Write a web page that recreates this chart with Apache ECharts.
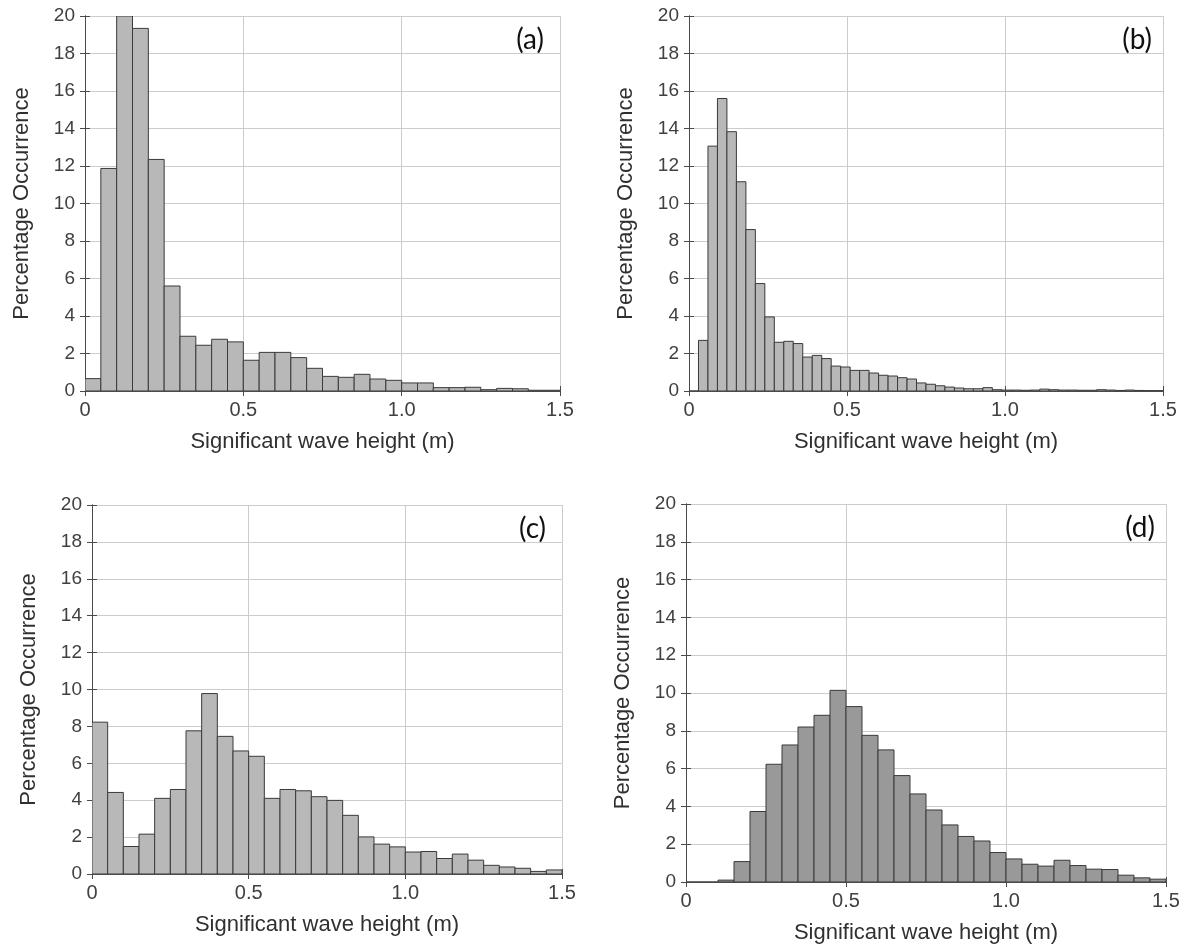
<!DOCTYPE html>
<html>
<head>
<meta charset="utf-8">
<script src="https://cdn.jsdelivr.net/npm/echarts@6/dist/echarts.min.js"></script>
<style>
html,body{margin:0;padding:0;background:#fff;}
#chart{width:1192px;height:949px;}
</style>
</head>
<body>
<div id="chart"></div>
<script>
// ---- data ----
const xTickLabels = ['0', '0.5', '1.0', '1.5'];
const xTickValues = [0, 0.5, 1.0, 1.5];
const yTickValues = [0, 2, 4, 6, 8, 10, 12, 14, 16, 18, 20];
const panelLabels = ['(a)', '(b)', '(c)', '(d)'];
const binWidthA = 0.05;
const binWidthB = 0.03;
const binWidthC = 0.05;
const binWidthD = 0.05;
const valuesA = [0.66, 11.87, 20, 19.34, 12.35, 5.6, 2.92, 2.44, 2.76, 2.62, 1.64, 2.06, 2.06, 1.78, 1.21, 0.78, 0.73, 0.89, 0.64, 0.57, 0.43, 0.43, 0.18, 0.18, 0.2, 0.07, 0.14, 0.12, 0.04, 0.04];
const valuesB = [0, 2.7, 13.06, 15.6, 13.83, 11.16, 8.61, 5.73, 3.95, 2.6, 2.65, 2.53, 1.81, 1.9, 1.73, 1.33, 1.28, 1.1, 1.1, 0.96, 0.84, 0.8, 0.71, 0.64, 0.43, 0.36, 0.28, 0.21, 0.16, 0.12, 0.12, 0.18, 0.07, 0.05, 0.05, 0.04, 0.05, 0.1, 0.07, 0.05, 0.05, 0.04, 0.04, 0.07, 0.05, 0.03, 0.05, 0.03, 0.02, 0.02];
const valuesC = [8.23, 4.42, 1.49, 2.16, 4.1, 4.58, 7.76, 9.78, 7.46, 6.67, 6.38, 4.1, 4.58, 4.51, 4.19, 3.99, 3.18, 2.01, 1.62, 1.47, 1.19, 1.22, 0.84, 1.08, 0.75, 0.47, 0.38, 0.31, 0.14, 0.22];
const valuesD = [0, 0, 0.1, 1.08, 3.73, 6.23, 7.25, 8.2, 8.82, 10.14, 9.28, 7.76, 6.99, 5.63, 4.66, 3.81, 3.02, 2.41, 2.17, 1.56, 1.22, 0.94, 0.84, 1.15, 0.87, 0.68, 0.66, 0.36, 0.22, 0.15];
const xTitle = 'Significant wave height (m)';
const yTitle = 'Percentage Occurrence';

// ---- layout / style ----
const grids = [
  {left: 85, top: 16, width: 475, height: 375},
  {left: 689, top: 16, width: 474, height: 375},
  {left: 92, top: 505, width: 470, height: 369},
  {left: 686, top: 504, width: 480, height: 378}
];
const labelOffsets = [16, 11, 16, 11];
const fills = ['#b8b8b8', '#b8b8b8', '#b8b8b8', '#999999'];
const panels = [
  {w: binWidthA, v: valuesA},
  {w: binWidthB, v: valuesB},
  {w: binWidthC, v: valuesC},
  {w: binWidthD, v: valuesD}
];
const FONT = 'Arial, "Liberation Sans", Helvetica, sans-serif';
const boxColor = '#4a4a4a';
const gridColor = '#cccccc';

function fmtX(v) {
  const i = xTickValues.findIndex(t => Math.abs(t - v) < 1e-9);
  return i >= 0 ? xTickLabels[i] : '';
}

const xAxes = [], yAxes = [], series = [], titles = [];
grids.forEach((g, i) => {
  xAxes.push({
    type: 'value', gridIndex: i, min: 0, max: 1.5, interval: 0.5, position: 'bottom',
    name: xTitle, nameLocation: 'middle', nameGap: 40,
    nameTextStyle: {fontFamily: FONT, fontSize: 22, color: '#303030'},
    axisLine: {show: true, lineStyle: {color: boxColor, width: 1}},
    axisTick: {show: true, inside: true, length: 5, lineStyle: {color: boxColor}},
    axisLabel: {formatter: fmtX, fontFamily: FONT, fontSize: 20, color: '#404040', margin: 9},
    splitLine: {show: true, lineStyle: {color: gridColor, width: 1}}
  });
  xAxes.push({
    type: 'value', gridIndex: i, min: 0, max: 1.5, interval: 0.5, position: 'top',
    axisLine: {show: true, lineStyle: {color: boxColor, width: 1}},
    axisTick: {show: true, inside: true, length: 5, lineStyle: {color: boxColor}},
    axisLabel: {show: false}, splitLine: {show: false}
  });
  yAxes.push({
    type: 'value', gridIndex: i, min: 0, max: 20, interval: 2, position: 'left',
    name: yTitle, nameLocation: 'middle', nameGap: 52,
    nameTextStyle: {fontFamily: FONT, fontSize: 22, color: '#303030'},
    axisLine: {show: true, lineStyle: {color: boxColor, width: 1}},
    axisTick: {show: true, inside: true, length: 5, lineStyle: {color: boxColor}},
    axisLabel: {fontFamily: FONT, fontSize: 19, color: '#404040', margin: 10},
    splitLine: {show: true, lineStyle: {color: gridColor, width: 1}}
  });
  yAxes.push({
    type: 'value', gridIndex: i, min: 0, max: 20, interval: 2, position: 'right',
    axisLine: {show: true, lineStyle: {color: boxColor, width: 1}},
    axisTick: {show: true, inside: true, length: 5, lineStyle: {color: boxColor}},
    axisLabel: {show: false}, splitLine: {show: false}
  });
  const p = panels[i];
  const data = p.v.map((val, k) => [k * p.w, (k + 1) * p.w, val]);
  const fill = fills[i];
  series.push({
    type: 'custom',
    xAxisIndex: i * 2,
    yAxisIndex: i * 2,
    clip: true,
    data: data,
    encode: {x: [0, 1], y: 2},
    renderItem: function (params, api) {
      const x0 = api.value(0), x1 = api.value(1), y = api.value(2);
      const pTop = api.coord([x0, y]);
      const pBot = api.coord([x1, 0]);
      return {
        type: 'rect',
        shape: {x: pTop[0], y: pTop[1], width: pBot[0] - pTop[0], height: pBot[1] - pTop[1]},
        style: {fill: fill, stroke: '#3a3a3a', lineWidth: 1}
      };
    },
    z: 3
  });
  titles.push({
    text: panelLabels[i],
    right: 1192 - (g.left + g.width) + labelOffsets[i],
    top: g.top + 10,
    textStyle: {fontFamily: 'Lato, "Open Sans", sans-serif', fontSize: 28, fontWeight: 'normal', color: '#111'},
    padding: 0
  });
});

const chart = echarts.init(document.getElementById('chart'), null, {renderer: 'canvas'});
chart.setOption({
  animation: false,
  backgroundColor: '#fff',
  title: titles,
  grid: grids,
  xAxis: xAxes,
  yAxis: yAxes,
  series: series
});
</script>
</body>
</html>
